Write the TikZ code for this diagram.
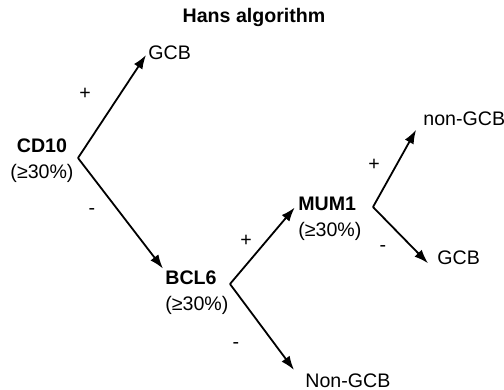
\documentclass[tikz,border=0pt]{standalone}
\usepackage{fontspec}
\setmainfont{Liberation Sans}
\usetikzlibrary{positioning}
\usetikzlibrary{arrows.meta}
\tikzset{
  lbl/.style={font=\fontsize{9.8}{11}\selectfont, inner sep=1pt, text height=7pt, text depth=2pt},
  gene/.style={lbl, font=\fontsize{9.8}{11}\selectfont\bfseries},
  arr/.style={-{Latex[length=7pt,width=5pt]}, line width=0.9pt},
}

\begin{document}
\begin{tikzpicture}[x=0.5pt, y=-0.5pt]
  \useasboundingbox (0,0) rectangle (504,390);
  \node[gene] (title) at (254,18) {Hans algorithm};
  \node[gene] (cd10) at (42,148) {CD10};
  \node[lbl, below=1.5pt of cd10] (cd10pct) {(≥30\%)};
  \node[gene, anchor=west] (bcl6) at (163,280) {BCL6};
  \node[lbl, below right=1.5pt and 0pt of bcl6.south west] (bcl6pct) {(≥30\%)};
  \node[gene, anchor=west] (mum1) at (296,206) {MUM1};
  \node[lbl, below right=1.5pt and 0pt of mum1.south west] (mum1pct) {(≥30\%)};
  \node[lbl, anchor=west] (gcba) at (146,55) {GCB};
  \node[lbl, anchor=west] (nongcba) at (421,121) {non-GCB};
  \node[lbl, anchor=west] (gcbb) at (435,259) {GCB};
  \node[lbl, anchor=west] (nongcbb) at (303,382) {Non-GCB};
  \coordinate (cd10v) at (78,158);
  \coordinate (bcl6v) at (230,284);
  \coordinate (mum1v) at (373,207);
  \draw[arr] (cd10v) -- (gcba.west);
  \draw[arr] (cd10v) -- (bcl6.north west);
  \draw[arr, shorten >=1pt] (bcl6v) -- (mum1.west);
  \draw[arr, shorten >=7.5pt] (bcl6v) -- (nongcbb.west);
  \draw[arr, shorten >=5pt] (mum1v) -- (nongcba.west);
  \draw[arr, shorten >=5pt] (mum1v) -- (gcbb.south west);
  \node[lbl] (cd10plus) at (85,95) {+};
  \node[lbl] (cd10minus) at (92,210) {-};
  \node[lbl] (bcl6plus) at (246,242) {+};
  \node[lbl] (bcl6minus) at (236,343) {-};
  \node[lbl] (mum1plus) at (374,166) {+};
  \node[lbl] (mum1minus) at (383,246) {-};
\end{tikzpicture}
\end{document}
